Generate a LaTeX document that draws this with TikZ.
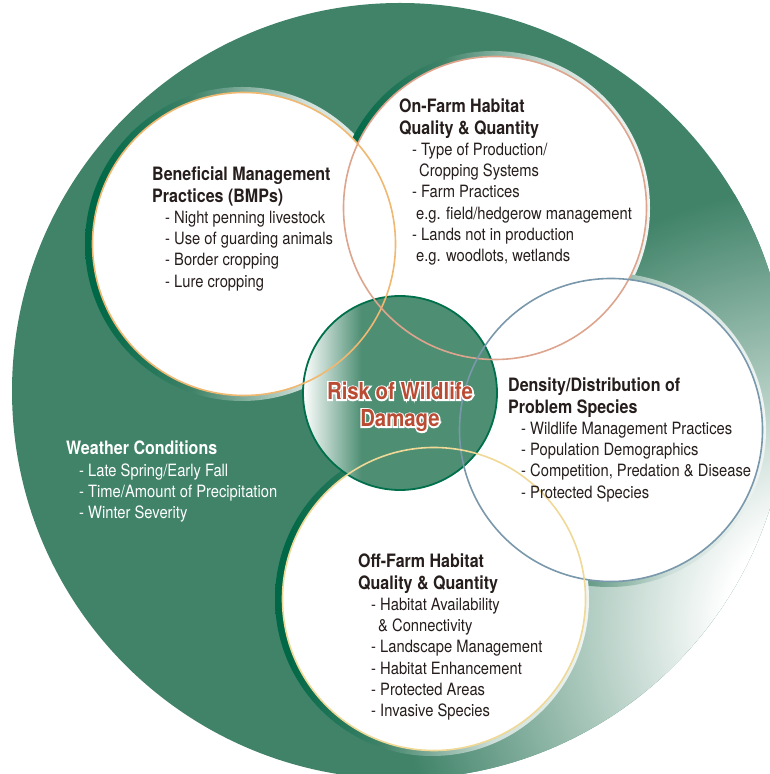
\documentclass[tikz,border=0pt]{standalone}
\usepackage{fontspec}
\setmainfont{TeX Gyre Heros}[FakeStretch=0.87]
\usetikzlibrary{calc}

\definecolor{fieldgreen}{RGB}{64,131,105}
\definecolor{rimgreen}{RGB}{0,104,70}
\definecolor{hubgreen}{RGB}{78,143,116}
\definecolor{hubline}{RGB}{0,112,76}
\definecolor{inkdark}{RGB}{38,30,28}
\definecolor{riskred}{RGB}{186,76,52}
\definecolor{ringorange}{RGB}{240,184,112}
\definecolor{ringpink}{RGB}{222,165,142}
\definecolor{ringblue}{RGB}{122,152,172}
\definecolor{ringyellow}{RGB}{240,216,150}

% glow in the lower right of the field, rims and hub fading from the left
\pgfdeclareradialshading{fieldglow}{\pgfpoint{0bp}{0bp}}{color(0bp)=(white); color(6bp)=(white); color(25bp)=(fieldgreen); color(50bp)=(fieldgreen)}
\pgfdeclarehorizontalshading{rimfade}{100bp}{color(0bp)=(rimgreen); color(27bp)=(rimgreen); color(42bp)=(fieldgreen); color(60bp)=(fieldgreen!25); color(75bp)=(fieldgreen!8); color(100bp)=(fieldgreen!8)}
\pgfdeclarehorizontalshading{hubfade}{100bp}{color(0bp)=(white); color(25bp)=(white); color(40bp)=(hubgreen); color(100bp)=(hubgreen)}

\newcommand{\blurbhead}[1]{{\fontsize{18.5}{21.3}\selectfont\bfseries #1}}
\newcommand{\dashline}{\hspace*{13bp}- }
\newcommand{\runon}{\hspace*{20bp}}
\font\riskhalo="TeX Gyre Heros/B:extend=0.87;embolden=12" at 23.5bp
\newcommand{\halotype}{\riskhalo\baselineskip=27bp\relax}

\begin{document}
\begin{tikzpicture}[x=1bp,y=1bp,
  ring/.style={line width=1.6bp},
  blurb/.style={anchor=north west, align=left, inner sep=0pt, text=inkdark,
    font=\fontsize{17}{21.3}\selectfont},
  riskword/.style={anchor=north, align=center, inner sep=0pt,
    font=\fontsize{23.5}{27}\selectfont\bfseries}]
\useasboundingbox (0,0) rectangle (770,774);
\clip (0,0) rectangle (770,774);

\coordinate (field) at (400,383);
\coordinate (glow) at (830,150);
\coordinate (bmp) at (244,530);
\coordinate (onfarm) at (495,566);
\coordinate (density) at (611,344);
\coordinate (offfarm) at (434,175);
\coordinate (hub) at (400,381);

% big field
\fill[fieldgreen] (field) circle (388);
\begin{scope}
  \clip (field) circle (388);
  \shade[shading=fieldglow] (glow) circle (440);
\end{scope}

% rims behind the bubbles
\foreach \c in {bmp,onfarm,density,offfarm}
  \shade[shading=rimfade] ($(\c)+(-2,0)$) circle (157);
\foreach \c in {bmp,onfarm,density,offfarm}
  \fill[white] (\c) circle (151.5);

% hub
\shade[shading=hubfade] (hub) circle (97);
\draw[hubline, line width=1.8bp] (hub) circle (97);

% bubble outlines
\foreach \c/\col in {bmp/ringorange,onfarm/ringpink,density/ringblue,offfarm/ringyellow}
  \draw[ring, \col] (\c) circle (151.5);

% texts
\node[blurb] (bmptext) at (152,607) {\blurbhead{Beneficial Management}\\
  \blurbhead{Practices (BMPs)}\\
  \dashline Night penning livestock\\
  \dashline Use of guarding animals\\
  \dashline Border cropping\\
  \dashline Lure cropping};

\node[blurb] (onfarmtext) at (399,675) {\blurbhead{On-Farm Habitat}\\
  \blurbhead{Quality \& Quantity}\\
  \dashline Type of Production/\\
  \runon Cropping Systems\\
  \dashline Farm Practices\\
  \hspace*{17bp}e.g. field/hedgerow management\\
  \dashline Lands not in production\\
  \hspace*{17bp}e.g. woodlots, wetlands};

\node[blurb] (densitytext) at (508,396) {\blurbhead{Density/Distribution of}\\
  \blurbhead{Problem Species}\\
  \dashline Wildlife Management Practices\\
  \dashline Population Demographics\\
  \dashline Competition, Predation \& Disease\\
  \dashline Protected Species};

\node[blurb] (offfarmtext) at (358,220) {\blurbhead{Off-Farm Habitat}\\
  \blurbhead{Quality \& Quantity}\\
  \dashline Habitat Availability\\
  \runon\& Connectivity\\
  \dashline Landscape Management\\
  \dashline Habitat Enhancement\\
  \dashline Protected Areas\\
  \dashline Invasive Species};

\node[blurb, text=white] (weathertext) at (66,333) {\blurbhead{Weather Conditions}\\
  \dashline Late Spring/Early Fall\\
  \dashline Time/Amount of Precipitation\\
  \dashline Winter Severity};

% hub label, white edge under red letters
\node[riskword, text=white, font=\halotype] (riskhalo) at (400,392) {Risk of Wildlife\\Damage};
\node[riskword, text=riskred] (risk) at (400,392) {Risk of Wildlife\\Damage};
\end{tikzpicture}
\end{document}
